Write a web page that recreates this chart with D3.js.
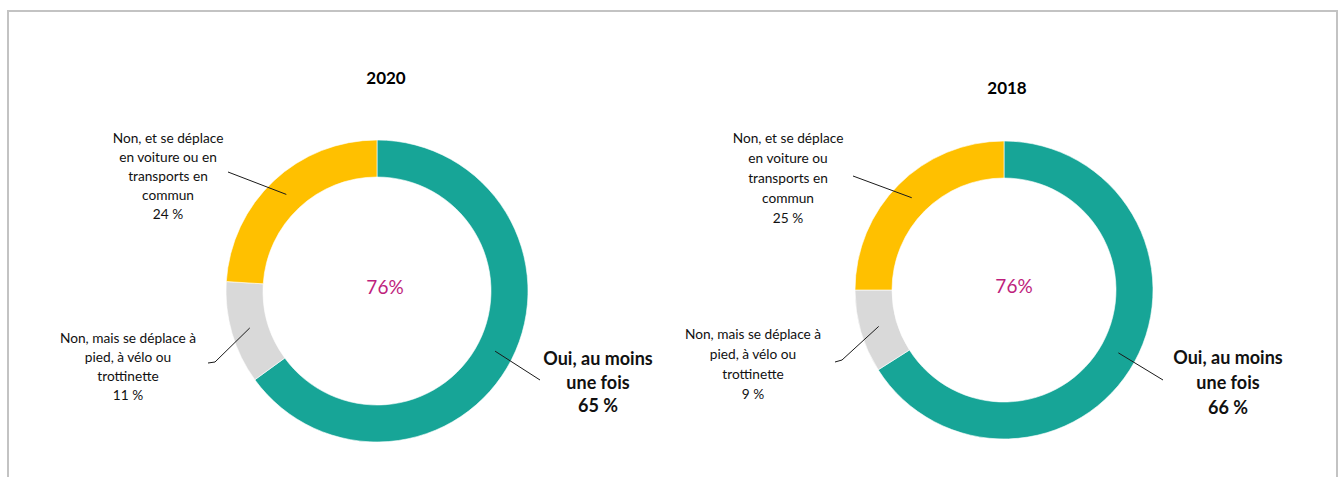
<!DOCTYPE html>
<html>
<head>
<meta charset="utf-8">
<script src="https://cdn.jsdelivr.net/npm/d3@7"></script>
<style>
  html, body { margin: 0; padding: 0; background: #fff; }
  svg { display: block; }
</style>
</head>
<body>
<svg id="chart" width="1344" height="477"></svg>
<script>
// ---------- data ----------
const years = ["2020", "2018"];
const categories = [
  "Oui, au moins une fois",
  "Non, mais se déplace à pied, à vélo ou trottinette",
  "Non, et se déplace en voiture ou en transports en commun"
];
const values2020 = [65, 11, 24];
const values2018 = [66, 9, 25];
const centerLabels = ["76%", "76%"];
const labelLines2020 = [
  ["Oui, au moins", "une fois", "65 %"],
  ["Non, mais se déplace à", "pied, à vélo ou", "trottinette", "11 %"],
  ["Non, et se déplace", "en voiture ou en", "transports en", "commun", "24 %"]
];
const labelLines2018 = [
  ["Oui, au moins", "une fois", "66 %"],
  ["Non, mais se déplace à", "pied, à vélo ou", "trottinette", "9 %"],
  ["Non, et se déplace", "en voiture ou", "transports en", "commun", "25 %"]
];
const colors = ["#17a597", "#d9d9d9", "#ffc000"];

// ---------- layout ----------
const svg = d3.select("#chart");
const W = 1344, H = 477;
const font = "Lato, 'Open Sans', sans-serif";

// frame
svg.append("path")
  .attr("d", `M8,${H + 2} L8,11 L1337,11 L1337,${H + 2}`)
  .attr("fill", "none").attr("stroke", "#c3c3c3").attr("stroke-width", 2);

const charts = [
  { year: years[0], values: values2020, lines: labelLines2020, center: centerLabels[0],
    cx: 377, cy: 291, rOut: 151, rIn: 114, titleX: 386, titleY: 77, centerX: 385,
    leaders: [ [[163, 89]], [[-162, 71], [-169, 72]], [[-149, -119]] ],
    labelPos: [ [221, 67, 23.5], [-249, 46, 19], [-209, -154, 19] ] },
  { year: years[1], values: values2018, lines: labelLines2018, center: centerLabels[1],
    cx: 1004, cy: 290, rOut: 149, rIn: 112, titleX: 1007, titleY: 87, centerX: 1014,
    leaders: [ [[159, 90]], [[-162, 70], [-169, 72]], [[-151, -114]] ],
    labelPos: [ [224, 67, 25], [-251, 43, 20], [-216, -153, 20] ] }
];

const pie = d3.pie().sort(null).value(d => d).startAngle(0).endAngle(2 * Math.PI);

charts.forEach(c => {
  const g = svg.append("g").attr("transform", `translate(${c.cx},${c.cy})`);
  const arc = d3.arc().innerRadius(c.rIn).outerRadius(c.rOut);
  const arcs = pie(c.values);

  g.selectAll("path.slice").data(arcs).enter().append("path")
    .attr("class", "slice")
    .attr("d", arc)
    .attr("fill", (d, i) => colors[i])
    .attr("stroke", "#fff").attr("stroke-width", 0.6);

  // title
  svg.append("text")
    .attr("x", c.titleX).attr("y", c.titleY)
    .attr("text-anchor", "middle").attr("dominant-baseline", "central")
    .attr("font-family", font).attr("font-weight", "bold").attr("font-size", 17)
    .attr("fill", "#000").text(c.year);

  // center label
  svg.append("text")
    .attr("x", c.centerX).attr("y", c.cy - 5)
    .attr("text-anchor", "middle").attr("dominant-baseline", "central")
    .attr("font-family", font).attr("font-size", 19)
    .attr("fill", "#be1e7d").text(c.center);

  // leader lines
  arcs.forEach((d, i) => {
    const cen = arc.centroid(d);
    const pts = [cen].concat(c.leaders[i]);
    g.append("path")
      .attr("d", d3.line()(pts))
      .attr("fill", "none").attr("stroke", "#1a1a1a").attr("stroke-width", 1);
  });

  // labels
  c.lines.forEach((lines, i) => {
    const [lx, ly, step] = c.labelPos[i];
    const bold = i === 0;
    const t = g.append("text")
      .attr("text-anchor", "middle")
      .attr("font-family", font)
      .attr("font-size", bold ? 18 : 13.7)
      .attr("font-weight", bold ? "bold" : "normal")
      .attr("fill", "#111");
    lines.forEach((ln, k) => {
      t.append("tspan")
        .attr("x", lx).attr("y", ly + k * step)
        .attr("dominant-baseline", "central")
        .text(ln);
    });
  });
});
</script>
</body>
</html>
